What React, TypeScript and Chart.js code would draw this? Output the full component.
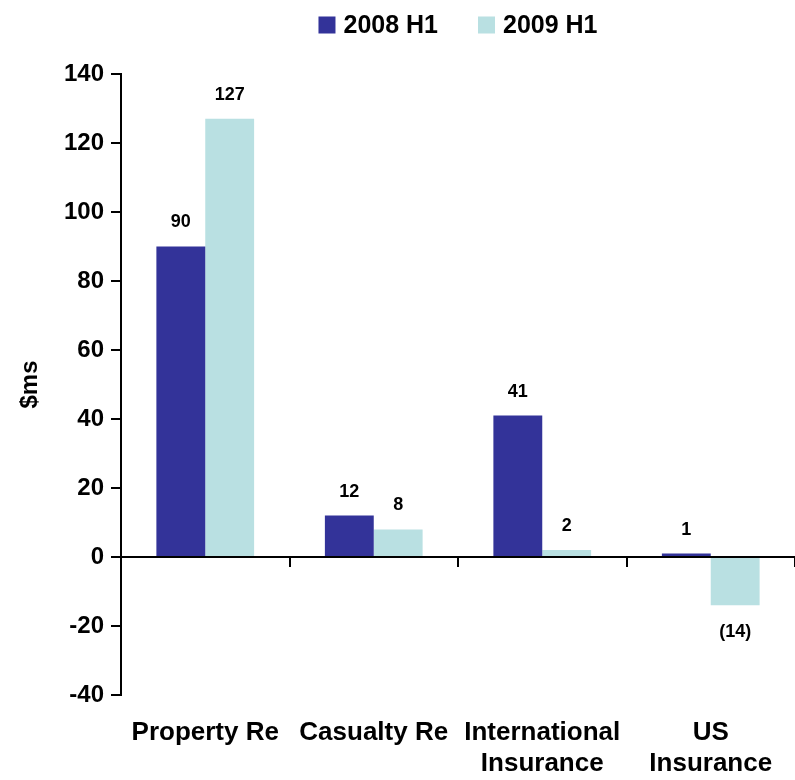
import React, { useEffect, useRef } from "react";
import { Chart, registerables } from "chart.js";

Chart.register(...registerables);

const categories: (string | string[])[] = [
  "Property Re",
  "Casualty Re",
  ["International", "Insurance"],
  ["US", "Insurance"],
];
const series2008: number[] = [90, 12, 41, 1];
const series2009: number[] = [127, 8, 2, -14];
const seriesLabels: string[] = ["2008 H1", "2009 H1"];
const yTickMin = -40;
const yTickMax = 140;
const yTickStep = 20;

const FONT = '"Liberation Sans", Arial, Helvetica, sans-serif';
const DARK = "#333399";
const LIGHT = "#B9E0E2";

const legendPlugin = {
  id: "customLegend",
  afterDraw(chart: any) {
    const { ctx, chartArea } = chart;
    const items = chart.data.datasets.map((ds: any) => ({
      label: ds.label,
      color: ds.backgroundColor,
    }));
    ctx.save();
    ctx.font = `bold 25px ${FONT}`;
    const box = 17;
    const gapText = 8;
    const gapItem = 40;
    const widths = items.map(
      (it: any) => box + gapText + ctx.measureText(it.label).width
    );
    const total =
      widths.reduce((a: number, b: number) => a + b, 0) +
      gapItem * (items.length - 1);
    let x = (chartArea.left + chartArea.right) / 2 - total / 2;
    const cy = 25;
    items.forEach((it: any, i: number) => {
      ctx.fillStyle = it.color;
      ctx.fillRect(x, cy - box / 2, box, box);
      ctx.fillStyle = "#000";
      ctx.textAlign = "left";
      ctx.textBaseline = "middle";
      ctx.fillText(it.label, x + box + gapText, cy + 1);
      x += widths[i] + gapItem;
    });
    ctx.restore();
  },
};

const zeroLinePlugin = {
  id: "zeroLine",
  afterDatasetsDraw(chart: any) {
    const { ctx, chartArea, scales } = chart;
    const y0 = scales.y.getPixelForValue(0);
    const n = chart.data.labels.length;
    const w = (chartArea.right - chartArea.left) / n;
    ctx.save();
    ctx.strokeStyle = "#000";
    ctx.lineWidth = 2;
    ctx.beginPath();
    ctx.moveTo(chartArea.left, y0);
    ctx.lineTo(chartArea.right, y0);
    for (let i = 1; i <= n; i++) {
      const x = Math.round(chartArea.left + i * w);
      ctx.moveTo(x, y0);
      ctx.lineTo(x, y0 + 10);
    }
    ctx.stroke();
    ctx.restore();
  },
};

const dataLabelPlugin = {
  id: "dataLabels",
  afterDatasetsDraw(chart: any) {
    const { ctx } = chart;
    ctx.save();
    ctx.font = `bold 18px ${FONT}`;
    ctx.fillStyle = "#000";
    ctx.textAlign = "center";
    ctx.textBaseline = "middle";
    chart.data.datasets.forEach((ds: any, di: number) => {
      const meta = chart.getDatasetMeta(di);
      meta.data.forEach((bar: any, i: number) => {
        const v = ds.data[i];
        const text = v < 0 ? `(${Math.abs(v)})` : String(v);
        const y = v < 0 ? bar.y + 27 : bar.y - 24;
        ctx.fillText(text, bar.x, y);
      });
    });
    ctx.restore();
  },
};

export default function App() {
  const ref = useRef<HTMLCanvasElement | null>(null);

  useEffect(() => {
    if (!ref.current) return;
    const chart = new Chart(ref.current, {
      type: "bar",
      data: {
        labels: categories,
        datasets: [
          {
            label: seriesLabels[0],
            data: series2008,
            backgroundColor: DARK,
            barPercentage: 1,
            categoryPercentage: 0.58,
          },
          {
            label: seriesLabels[1],
            data: series2009,
            backgroundColor: LIGHT,
            barPercentage: 1,
            categoryPercentage: 0.58,
          },
        ],
      },
      options: {
        responsive: false,
        animation: false,
        layout: { padding: { top: 74, left: 0, right: 0, bottom: 0 } },
        plugins: {
          legend: { display: false },
          tooltip: { enabled: false },
        },
        scales: {
          x: {
            position: "bottom",
            grid: { display: false, drawTicks: false },
            border: { display: false },
            ticks: {
              color: "#000",
              padding: 22,
              maxRotation: 0,
              autoSkip: false,
              font: { family: FONT, size: 26, weight: "bold", lineHeight: 1.2 },
            },
            afterFit(scale: any) {
              scale.height = 85;
            },
          },
          y: {
            min: yTickMin,
            max: yTickMax,
            ticks: {
              stepSize: yTickStep,
              color: "#000",
              padding: 7,
              font: { family: FONT, size: 24, weight: "bold" },
            },
            grid: {
              display: true,
              drawOnChartArea: false,
              drawTicks: true,
              tickLength: 10,
              color: "#000",
              lineWidth: 2,
            },
            border: { display: true, color: "#000", width: 2 },
            title: {
              display: true,
              text: "$ms",
              color: "#000",
              padding: { top: 16, bottom: 0 },
              font: { family: FONT, size: 24, weight: "bold" },
            },
            afterFit(scale: any) {
              scale.width = 121;
            },
          },
        },
      },
      plugins: [legendPlugin, zeroLinePlugin, dataLabelPlugin],
    } as any);
    return () => chart.destroy();
  }, []);

  return (
    <div style={{ position: "absolute", left: 0, top: 0, width: 795, height: 780, background: "#fff" }}>
      <canvas ref={ref} width={795} height={780} />
    </div>
  );
}
